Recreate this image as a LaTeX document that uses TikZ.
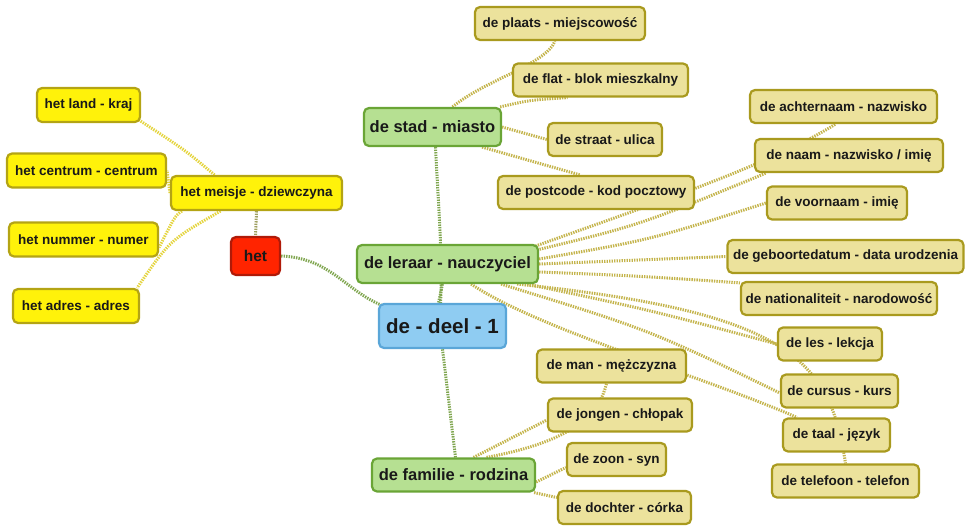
\documentclass[tikz,border=0pt]{standalone}
\usepackage{fontspec}
\setmainfont{Liberation Sans}
\usetikzlibrary{backgrounds}
\definecolor{olivefill}{HTML}{ECE29C}
\definecolor{olivedraw}{HTML}{A99A1E}
\definecolor{yelfill}{HTML}{FFF20A}
\definecolor{yeldraw}{HTML}{B4A414}
\definecolor{greenfill}{HTML}{B6E092}
\definecolor{greendraw}{HTML}{6AA536}
\definecolor{bluefill}{HTML}{8FCCF2}
\definecolor{bluedraw}{HTML}{5AA6D8}
\definecolor{redfill}{HTML}{FF2400}
\definecolor{reddraw}{HTML}{B01A08}
\definecolor{olivelink}{HTML}{C4B44C}
\definecolor{greenlink}{HTML}{80A650}
\definecolor{yellink}{HTML}{E4D43E}
\definecolor{hetlink}{HTML}{9FA060}
\begin{document}
\begin{tikzpicture}[x=1pt,y=-1pt,
  box/.style={rounded corners=5pt, line width=2.2pt, align=center, inner xsep=4pt, inner ysep=0pt,
              font=\bfseries\fontsize{13.5}{16}\selectfont, text=black!90},
  oliveb/.style={box, fill=olivefill, draw=olivedraw, minimum height=33pt},
  yelb/.style={box, fill=yelfill, draw=yeldraw, minimum height=34pt},
  greenb/.style={box, fill=greenfill, draw=greendraw, minimum height=38pt,
              font=\bfseries\fontsize{16.5}{19}\selectfont},
  blueb/.style={box, fill=bluefill, draw=bluedraw, minimum height=44pt,
              font=\bfseries\fontsize{20.5}{24}\selectfont},
  redb/.style={box, fill=redfill, draw=reddraw, minimum height=38pt,
              font=\bfseries\fontsize{15.5}{18}\selectfont},
  link/.style={line width=3pt, dash pattern=on 1.4pt off 1.1pt},
  olink/.style={link, draw=olivelink},
  glink/.style={link, draw=greenlink},
  ylink/.style={link, draw=yellink},
  hlink/.style={link, draw=hetlink}]
\useasboundingbox (0,0) rectangle (965,525);

% central and main nodes
\node[blueb, minimum width=127pt] (deel) at (442.5,326) {de - deel - 1};
\node[redb, minimum width=49pt] (het) at (255.5,256) {het};
\node[greenb, minimum width=137pt] (stad) at (432.5,127) {de stad - miasto};
\node[greenb, minimum width=181pt] (leraar) at (447.5,264) {de leraar - nauczyciel};
\node[greenb, minimum width=163pt, minimum height=33pt] (familie) at (453.5,475) {de familie - rodzina};

% het branch
\node[yelb, minimum width=171pt] (meisje) at (256.5,193) {het meisje - dziewczyna};
\node[yelb, minimum width=103pt] (land) at (88.5,105) {het land - kraj};
\node[yelb, minimum width=159pt] (centrum) at (86.5,170.5) {het centrum - centrum};
\node[yelb, minimum width=149pt] (nummer) at (83.5,239.5) {het nummer - numer};
\node[yelb, minimum width=126pt] (adres) at (76,306) {het adres - adres};

% stad branch
\node[oliveb, minimum width=170pt] (plaats) at (560,23.5) {de plaats - miejscowość};
\node[oliveb, minimum width=175pt] (flat) at (600.5,80) {de flat - blok mieszkalny};
\node[oliveb, minimum width=114pt] (straat) at (605,139.5) {de straat - ulica};
\node[oliveb, minimum width=196pt] (postcode) at (596,192.5) {de postcode - kod pocztowy};

% leraar branch
\node[oliveb, minimum width=187pt] (achternaam) at (843.5,106.5) {de achternaam - nazwisko};
\node[oliveb, minimum width=188pt] (naam) at (849,155.5) {de naam - nazwisko / imię};
\node[oliveb, minimum width=140pt] (voornaam) at (837,203) {de voornaam - imię};
\node[oliveb, minimum width=236pt] (geboorte) at (845.5,256.5) {de geboortedatum - data urodzenia};
\node[oliveb, minimum width=196pt] (natl) at (839,298.5) {de nationaliteit - narodowość};
\node[oliveb, minimum width=104pt] (les) at (830,344) {de les - lekcja};
\node[oliveb, minimum width=117pt] (cursus) at (839.5,391) {de cursus - kurs};
\node[oliveb, minimum width=107pt] (taal) at (836.5,435) {de taal - język};
\node[oliveb, minimum width=147pt] (telefoon) at (845.5,481) {de telefoon - telefon};

% familie branch
\node[oliveb, minimum width=149pt] (man) at (611.5,366) {de man - mężczyzna};
\node[oliveb, minimum width=144pt] (jongen) at (620,415) {de jongen - chłopak};
\node[oliveb, minimum width=99pt] (zoon) at (616.5,459.5) {de zoon - syn};
\node[oliveb, minimum width=133pt] (dochter) at (624.5,507.5) {de dochter - córka};

\begin{scope}[on background layer]
% main links
\draw[glink] (het.east) .. controls (330,258) and (345,290) .. ([xshift=3pt,yshift=-2pt]deel.north west);
\draw[glink] ([xshift=3pt]stad.south) .. controls (438,200) and (443,260) .. ([xshift=-2pt]deel.north);
\draw[glink] ([xshift=-5pt]leraar.south) -- ([xshift=-4pt]deel.north);
\draw[glink] ([xshift=2pt]familie.north) -- (deel.south);
\draw[hlink] (meisje.south) -- (het.north);

% meisje links
\draw[ylink] ([xshift=-42pt]meisje.north) .. controls (185,150) .. ([xshift=-2pt,yshift=3pt]land.south east);
\draw[ylink] (meisje.west) -- (centrum.east);
\draw[ylink] ([xshift=12pt]meisje.south west) .. controls (175,216) .. ([yshift=-8pt]nummer.east);
\draw[ylink] ([xshift=-36pt]meisje.south) .. controls (170,240) .. ([xshift=-3pt]adres.north east);

% stad links
\draw[olink] ([xshift=20pt]stad.north) .. controls (485,80) and (545,65) .. ([xshift=-5pt]plaats.south);
\draw[olink] ([xshift=-2pt]stad.north east) .. controls (530,100) .. ([xshift=-33pt]flat.south);
\draw[olink] (stad.east) -- (straat.west);
\draw[olink] ([xshift=-20pt]stad.south east) -- ([xshift=-16pt]postcode.north);

% leraar links
\draw[olink] ([xshift=-6pt,yshift=-3pt]leraar.north east) .. controls (650,205) and (770,165) .. ([xshift=-8pt]achternaam.south);
\draw[olink] ([xshift=-2pt,yshift=-6pt]leraar.north east) .. controls (640,225) .. ([xshift=12pt]naam.south west);
\draw[olink] ([yshift=5pt]leraar.east) .. controls (650,240) .. (voornaam.west);
\draw[olink] (leraar.east) -- (geboorte.west);
\draw[olink] ([yshift=-8pt]leraar.east) .. controls (640,276) .. ([yshift=-2pt]natl.north west);
\draw[olink] ([xshift=-12pt]leraar.south east) .. controls (650,310) .. (les.west);
\draw[olink] ([xshift=-22pt]leraar.south east) .. controls (790,312) and (830,360) .. (telefoon.north);
\draw[olink] ([xshift=-38pt]leraar.south east) .. controls (650,330) .. ([yshift=-2pt]cursus.west);
\draw[olink] ([xshift=-68pt]leraar.south east) .. controls (540,330) and (700,375) .. ([xshift=15pt]taal.north west);

% familie links
\draw[olink] ([xshift=33pt]familie.north) .. controls (580,440) and (600,410) .. ([xshift=-5pt]man.south);
\draw[olink] ([xshift=20pt]familie.north) -- ([yshift=-5pt]jongen.west);
\draw[olink] ([yshift=-7pt]familie.east) -- ([yshift=-8pt]zoon.west);
\draw[olink] ([xshift=-2pt]familie.south east) -- ([yshift=10pt]dochter.west);
\end{scope}
\end{tikzpicture}
\end{document}
